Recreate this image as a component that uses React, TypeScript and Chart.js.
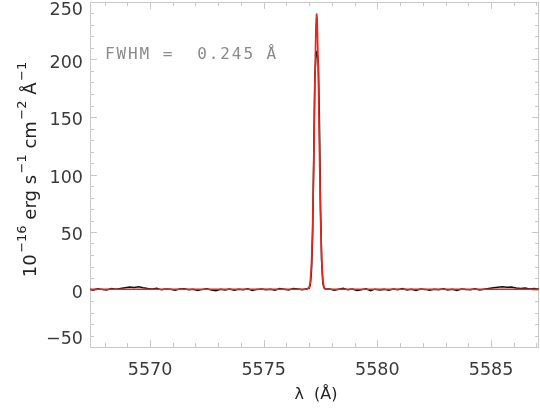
import React, { useEffect, useRef } from "react";
import { Chart, registerables } from "chart.js";

Chart.register(...registerables);

// Observed spectrum: wavelength (Å) and flux (1e-16 erg s^-1 cm^-2 Å^-1)
const wavelength = [
  5567.3, 5567.5, 5567.7, 5567.9, 5568.1, 5568.3, 5568.5, 5568.7, 5568.9, 5569.1,
  5569.3, 5569.5, 5569.7, 5569.9, 5570.1, 5570.3, 5570.5, 5570.7, 5570.9, 5571.1,
  5571.3, 5571.5, 5571.7, 5571.9, 5572.1, 5572.3, 5572.5, 5572.7, 5572.9, 5573.1,
  5573.3, 5573.5, 5573.7, 5573.9, 5574.1, 5574.3, 5574.5, 5574.7, 5574.9, 5575.1,
  5575.3, 5575.5, 5575.7, 5575.9, 5576.1, 5576.3, 5576.5, 5576.7, 5576.9,
  5577.0, 5577.05, 5577.1, 5577.15, 5577.2, 5577.25, 5577.3, 5577.33, 5577.35, 5577.4,
  5577.45, 5577.5, 5577.55, 5577.6, 5577.65, 5577.7,
  5577.9, 5578.1, 5578.3, 5578.5, 5578.7, 5578.9, 5579.1, 5579.3, 5579.5, 5579.7,
  5579.9, 5580.1, 5580.3, 5580.5, 5580.7, 5580.9, 5581.1, 5581.3, 5581.5, 5581.7,
  5581.9, 5582.1, 5582.3, 5582.5, 5582.7, 5582.9, 5583.1, 5583.3, 5583.5, 5583.7,
  5583.9, 5584.1, 5584.3, 5584.5, 5584.7, 5584.9, 5585.1, 5585.3, 5585.5, 5585.7,
  5585.9, 5586.1, 5586.3, 5586.5, 5586.7, 5586.9, 5587.1, 5587.3,
];
const observedFlux = [
  0.3, -0.4, 0.6, 0.1, -0.5, 0.8, 0.2, 0.9, 1.6, 2.1,
  1.8, 2.3, 1.5, 0.9, 0.4, 1.0, -0.3, 0.5, 0.2, -0.6,
  0.4, 0.7, -0.2, 0.3, -0.8, 0.1, 0.6, -0.4, -1.0, 0.2,
  -0.5, 0.4, -0.7, 0.3, -0.2, 0.6, -0.9, 0.1, 0.5, -0.3,
  0.2, -0.6, 0.8, 0.3, -0.4, 0.9, 0.5, -0.2, 0.7,
  1.0, 4, 15, 45, 110, 185, 203, 206, 205, 199,
  150, 72, 25, 6, 1.5, 0.6,
  0.4, -0.6, 0.2, 1.0, -0.3, 0.5, -0.8, -0.2, 0.6, -1.0,
  0.3, -0.5, 0.1, -0.7, 0.4, -0.3, 0.8, -0.4, 0.2, -0.9,
  0.5, 0.1, -0.6, 0.3, -0.2, 0.7, -0.5, 0.2, -0.8, 0.4,
  0.0, -0.3, 0.6, -0.5, 0.3, 0.9, 1.5, 2.0, 2.4, 1.9,
  2.2, 1.4, 0.8, 1.2, 0.5, 0.9, 0.3, 0.4,
];

// Gaussian fit (red)
const modelWavelength = [
  5567.3, 5576.9, 5577.0, 5577.05, 5577.1, 5577.15, 5577.2, 5577.25, 5577.3, 5577.33,
  5577.35, 5577.4, 5577.45, 5577.5, 5577.55, 5577.6, 5577.65, 5577.7, 5577.9, 5587.3,
];
const modelFlux = [
  0.2, 0.2, 1.6, 6.4, 21, 53, 110, 179, 230, 240,
  235.5, 192, 124, 63, 26, 8.3, 2.1, 0.4, 0.2, 0.2,
];

const xTicks = [5570, 5575, 5580, 5585];
const yTicks = [-50, 0, 50, 100, 150, 200, 250];
const xRange = [5567.36, 5587.11];
const yRange = [-50, 250];
const fwhmLabel = "FWHM =  0.245 Å";
const xTitle = "λ  (Å)";
const yTitleParts: [string, boolean][] = [
  ["10", false], ["−16", true], [" erg s", false], ["−1", true],
  [" cm", false], ["−2", true], [" Å", false], ["−1", true],
];

const FONT = '"DejaVu Sans", sans-serif';

const decorPlugin = {
  id: "decor",
  beforeDatasetsDraw(chart: any) {
    const { ctx, chartArea } = chart;
    const { left, right, top, bottom } = chartArea;
    const xs = chart.scales.x;
    const ys = chart.scales.y;
    ctx.save();
    ctx.strokeStyle = "#c8c8c8";
    ctx.lineWidth = 1;
    ctx.beginPath();
    ctx.moveTo(left + 0.5, top + 0.5);
    ctx.lineTo(left + 0.5, bottom + 0.5);
    ctx.lineTo(right - 0.5, bottom + 0.5);
    ctx.lineTo(right - 0.5, top + 0.5);
    ctx.closePath();
    ctx.stroke();
    ctx.beginPath();
    for (let v = Math.ceil(xRange[0]); v <= xRange[1]; v++) {
      const px = Math.round(xs.getPixelForValue(v)) + 0.5;
      const len = v % 5 === 0 ? 7 : 4;
      ctx.moveTo(px, bottom);
      ctx.lineTo(px, bottom - len);
      ctx.moveTo(px, top);
      ctx.lineTo(px, top + len);
    }
    for (let v = yRange[0]; v <= yRange[1]; v += 10) {
      const py = Math.round(ys.getPixelForValue(v)) + 0.5;
      const len = v % 50 === 0 ? 7 : 4;
      ctx.moveTo(left, py);
      ctx.lineTo(left + len, py);
      ctx.moveTo(right, py);
      ctx.lineTo(right - len, py);
    }
    ctx.stroke();
    ctx.restore();
  },
  afterDraw(chart: any) {
    const { ctx, chartArea } = chart;
    const { left, top, bottom } = chartArea;
    const xs = chart.scales.x;
    const ys = chart.scales.y;
    ctx.save();
    ctx.fillStyle = "#3a3a3a";
    ctx.font = `17.5px ${FONT}`;
    ctx.textBaseline = "alphabetic";
    ctx.textAlign = "right";
    for (const v of yTicks) {
      let cy = ys.getPixelForValue(v) + 2;
      cy = Math.max(top + 7, Math.min(bottom - 9, cy));
      ctx.fillText(String(v).replace("-", "−"), left - 7, cy + 6.3);
    }
    ctx.textAlign = "center";
    for (const v of xTicks) {
      ctx.fillText(String(v), xs.getPixelForValue(v), 374.5);
    }
    ctx.fillStyle = "#222";
    ctx.font = `16px ${FONT}`;
    ctx.fillText(xTitle, 316, 399);
    ctx.save();
    ctx.translate(36, (top + bottom) / 2 - 5);
    ctx.rotate(-Math.PI / 2);
    ctx.textAlign = "left";
    const mainFont = `18px ${FONT}`;
    const supFont = `13px ${FONT}`;
    let total = 0;
    for (const [t, sup] of yTitleParts) {
      ctx.font = sup ? supFont : mainFont;
      total += ctx.measureText(t).width + (sup ? 1.5 : 0);
    }
    let x = -total / 2;
    for (const [t, sup] of yTitleParts) {
      ctx.font = sup ? supFont : mainFont;
      ctx.fillText(t, x + (sup ? 1.5 : 0), sup ? -10 : 0);
      x += ctx.measureText(t).width + (sup ? 1.5 : 0);
    }
    ctx.restore();
    ctx.fillStyle = "#8a8a8a";
    ctx.font = `16px "DejaVu Sans Mono", monospace`;
    (ctx as any).letterSpacing = "1.9px";
    ctx.textAlign = "left";
    ctx.fillText(fwhmLabel, left + 15, top + 57);
    ctx.restore();
  },
};

export default function App() {
  const ref = useRef<HTMLCanvasElement>(null);
  useEffect(() => {
    document.body.style.margin = "0";
    const chart = new Chart(ref.current as HTMLCanvasElement, {
      type: "line",
      data: {
        datasets: [
          {
            label: "Gaussian fit",
            data: modelWavelength.map((x, i) => ({ x, y: modelFlux[i] })),
            borderColor: "rgb(228,38,28)",
            borderWidth: 1.7,
            pointRadius: 0,
            tension: 0,
          },
          {
            label: "Observed",
            data: wavelength.map((x, i) => ({ x, y: observedFlux[i] })),
            borderColor: "#111",
            borderWidth: 1.5,
            pointRadius: 0,
            tension: 0,
          },
        ],
      },
      options: {
        responsive: false,
        animation: false,
        events: [],
        layout: { padding: { top: 2, right: 1, left: 0, bottom: 0 } },
        plugins: { legend: { display: false }, tooltip: { enabled: false } },
        scales: {
          x: {
            type: "linear",
            min: xRange[0],
            max: xRange[1],
            ticks: { display: false },
            grid: { display: false, drawTicks: false },
            border: { display: false },
            afterFit(s: any) {
              s.height = 61;
              s.paddingLeft = 0;
              s.paddingRight = 0;
            },
          },
          y: {
            type: "linear",
            min: yRange[0],
            max: yRange[1],
            ticks: { display: false },
            grid: { display: false, drawTicks: false },
            border: { display: false },
            afterFit(s: any) {
              s.width = 90;
              s.paddingTop = 0;
              s.paddingBottom = 0;
            },
          },
        },
      } as any,
      plugins: [decorPlugin],
    });
    return () => chart.destroy();
  }, []);
  return (
    <div style={{ width: 540, height: 408 }}>
      <canvas ref={ref} width={540} height={408} style={{ display: "block" }} />
    </div>
  );
}
